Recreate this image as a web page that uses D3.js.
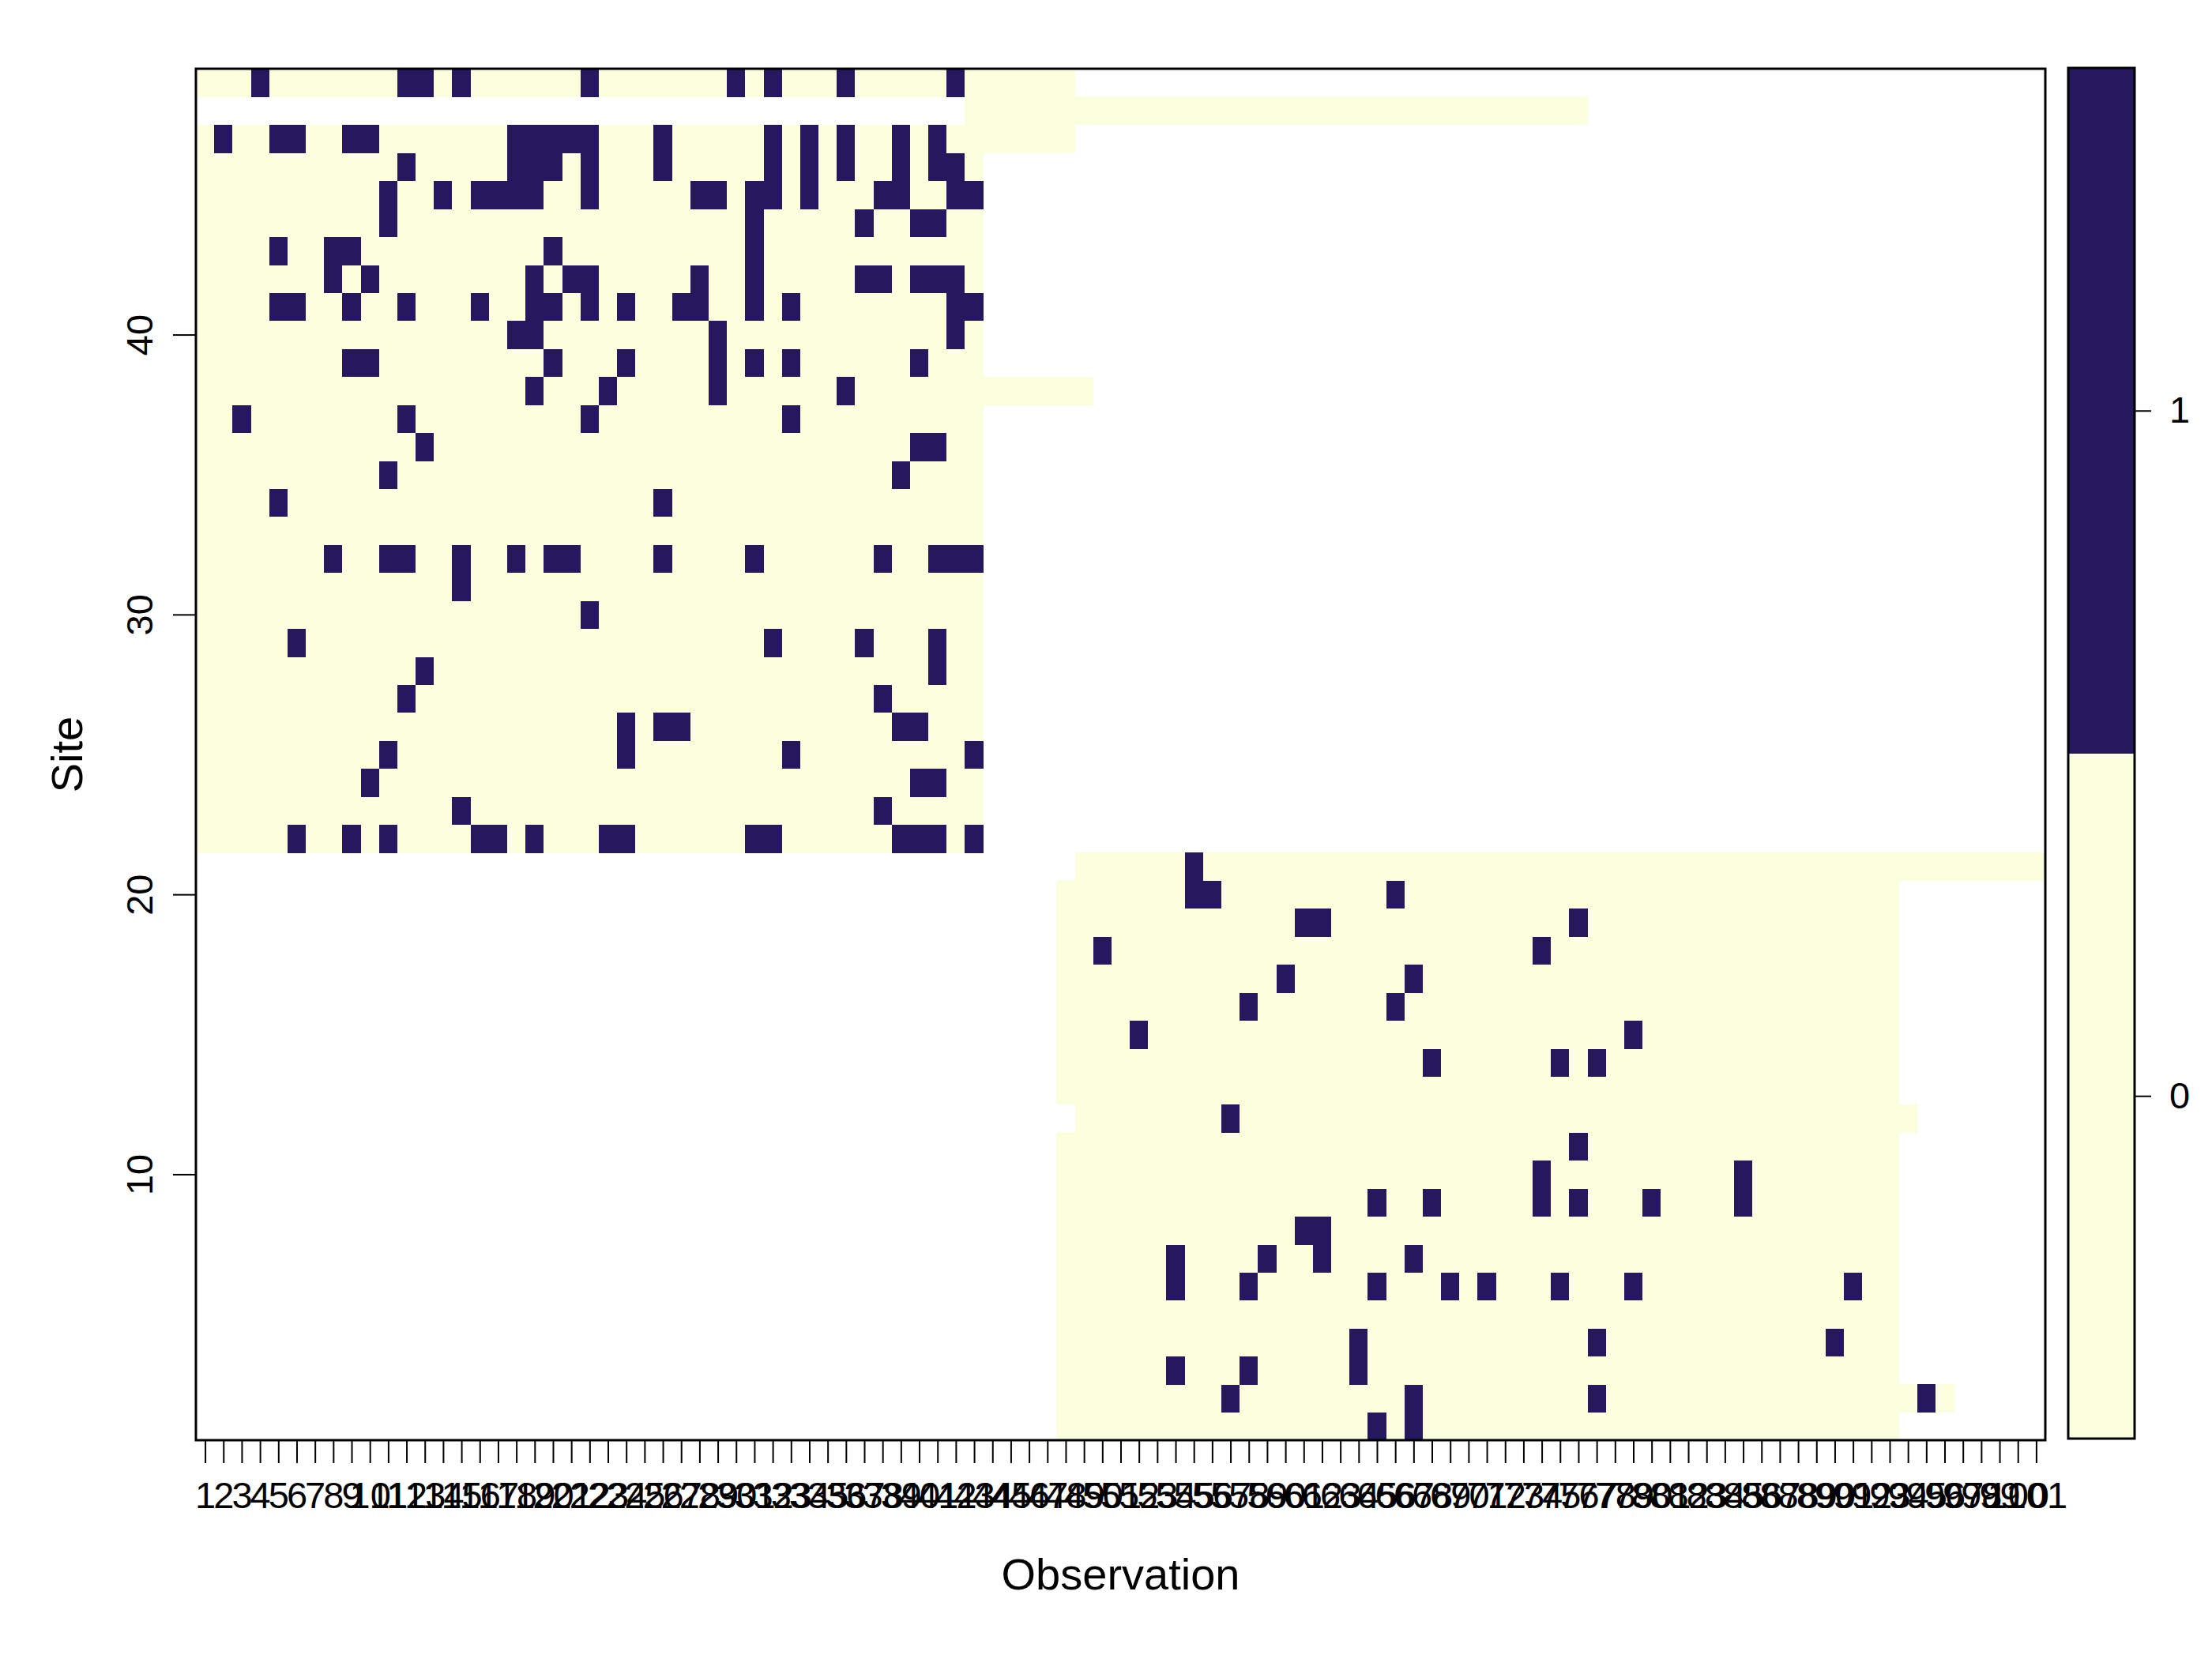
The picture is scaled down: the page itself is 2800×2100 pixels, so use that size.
<!DOCTYPE html>
<html>
<head>
<meta charset="utf-8">
<script src="https://cdn.jsdelivr.net/npm/d3@7"></script>
<style>
  html, body { margin: 0; padding: 0; background: #ffffff; }
  svg { display: block; font-family: "Liberation Sans", Arial, sans-serif; }
</style>
</head>
<body>
<svg id="chart" width="2800" height="2100"></svg>
<script>
// ---------------- DATA ----------------
const observations = [1,2,3,4,5,6,7,8,9,10,11,12,13,14,15,16,17,18,19,20,21,22,23,24,25,26,27,28,29,30,31,32,33,34,35,36,37,38,39,40,41,42,43,44,45,46,47,48,49,50,51,52,53,54,55,56,57,58,59,60,61,62,63,64,65,66,67,68,69,70,71,72,73,74,75,76,77,78,79,80,81,82,83,84,85,86,87,88,89,90,91,92,93,94,95,96,97,98,99,100,101];
const siteTicks = [10, 20, 30, 40];
const legendTicks = [0, 1];
const legendLevels = [0, 1];

// observed range (first and last observation) of each site; cells outside are NA (blank)
const sites    = [1, 2, 3, 4, 5, 6, 7, 8, 9,10,11,12,13,14,15,16,17,18,19,20,21,22,23,24,25,26,27,28,29,30,31,32,33,34,35,36,37,38,39,40,41,42,43,44,45,46,47,48,49];
const obsStart = [48,48,48,48,48,48,48,48,48,48,48,49,48,48,48,48,48,48,48,48,49, 1, 1, 1, 1, 1, 1, 1, 1, 1, 1, 1, 1, 1, 1, 1, 1, 1, 1, 1, 1, 1, 1, 1, 1, 1, 1,43, 1];
const obsEnd   = [93,96,93,93,93,93,93,93,93,93,93,94,93,93,93,93,93,93,93,93,101,43,43,43,43,43,43,43,43,43,43,43,43,43,43,43,43,49,43,43,43,43,43,43,43,43, 48,76,48];

// observations with value 1, per site (all other observed cells are 0)
const detections = [
  [65, 67],                                   // site 1
  [57, 67, 77, 95],                           // 2
  [54, 58, 64],                               // 3
  [64, 77, 90],                               // 4
  [],                                         // 5
  [54, 58, 65, 69, 71, 75, 79, 91],           // 6
  [54, 59, 62, 67],                           // 7
  [61, 62],                                   // 8
  [65, 68, 74, 76, 80, 85],                   // 9
  [74, 85],                                   // 10
  [76],                                       // 11
  [57],                                       // 12
  [],                                         // 13
  [68, 75, 77],                               // 14
  [52, 79],                                   // 15
  [58, 66],                                   // 16
  [60, 67],                                   // 17
  [50, 74],                                   // 18
  [61, 62, 76],                               // 19
  [55, 56, 66],                               // 20
  [55],                                       // 21
  [6, 9, 11, 16, 17, 19, 23, 24, 31, 32, 39, 40, 41, 43], // 22
  [15, 38],                                   // 23
  [10, 40, 41],                               // 24
  [11, 24, 33, 43],                           // 25
  [24, 26, 27, 39, 40],                       // 26
  [12, 38],                                   // 27
  [13, 41],                                   // 28
  [6, 32, 37, 41],                            // 29
  [22],                                       // 30
  [15],                                       // 31
  [8, 11, 12, 15, 18, 20, 21, 26, 31, 38, 41, 42, 43], // 32
  [],                                         // 33
  [5, 26],                                    // 34
  [11, 39],                                   // 35
  [13, 40, 41],                               // 36
  [3, 12, 22, 33],                            // 37
  [19, 23, 29, 36],                           // 38
  [9, 10, 20, 24, 29, 31, 33, 40],            // 39
  [18, 19, 29, 42],                           // 40
  [5, 6, 9, 12, 16, 19, 20, 22, 24, 27, 28, 31, 33, 42, 43], // 41
  [8, 10, 19, 21, 22, 28, 31, 37, 38, 40, 41, 42], // 42
  [5, 8, 9, 20, 31],                          // 43
  [11, 31, 37, 40, 41],                       // 44
  [11, 14, 16, 17, 18, 19, 22, 28, 29, 31, 32, 34, 38, 39, 42, 43], // 45
  [12, 18, 19, 20, 22, 26, 32, 34, 36, 39, 41, 42], // 46
  [2, 5, 6, 9, 10, 18, 19, 20, 21, 22, 26, 32, 34, 36, 39, 41], // 47
  [],                                         // 48
  [4, 12, 13, 15, 22, 30, 32, 36, 42]         // 49
];

const colors = ["#FCFFDD", "#26185F"];

// ---------------- BUILD CELLS ----------------
const cells = [];
sites.forEach((s, i) => {
  const det = new Set(detections[i]);
  observations.forEach(o => {
    if (o >= obsStart[i] && o <= obsEnd[i]) {
      cells.push({ site: s, obs: o, value: det.has(o) ? 1 : 0 });
    }
  });
});

// ---------------- LAYOUT ----------------
const svg = d3.select("#chart");
const plot = { left: 248, right: 2589, top: 87, bottom: 1823 };

const x = d3.scaleLinear().domain([0.5, observations.length + 0.5]).range([plot.left, plot.right]);
const y = d3.scaleLinear().domain([0.5, sites.length + 0.5]).range([plot.bottom, plot.top]);
const color = d3.scaleOrdinal().domain(legendLevels).range(colors);

// cells
svg.append("g")
  .attr("shape-rendering", "crispEdges")
  .selectAll("rect")
  .data(cells)
  .join("rect")
  .attr("x", d => x(d.obs - 0.5))
  .attr("y", d => y(d.site + 0.5))
  .attr("width", d => x(d.obs + 0.5) - x(d.obs - 0.5) + 0.6)
  .attr("height", d => y(d.site - 0.5) - y(d.site + 0.5) + 0.6)
  .attr("fill", d => color(d.value));

// x axis
const xAxis = svg.append("g")
  .attr("transform", `translate(0,${plot.bottom})`)
  .call(d3.axisBottom(x).tickValues(observations).tickFormat(d3.format("d")).tickSize(29).tickPadding(24));
xAxis.select(".domain").remove();
xAxis.selectAll(".tick line").attr("stroke", "#000").attr("stroke-width", 2);
xAxis.selectAll(".tick text").attr("font-size", 47).attr("fill", "#000")
  .attr("font-family", "Liberation Sans, Arial, sans-serif");

// y axis
const yAxis = svg.append("g")
  .attr("transform", `translate(${plot.left},0)`)
  .call(d3.axisLeft(y).tickValues(siteTicks).tickFormat(d3.format("d")).tickSize(29));
yAxis.select(".domain").remove();
yAxis.selectAll(".tick line").attr("stroke", "#000").attr("stroke-width", 2);
yAxis.selectAll(".tick text")
  .attr("x", null).attr("dy", null)
  .attr("text-anchor", "middle")
  .attr("transform", "translate(-55,0) rotate(-90)")
  .attr("font-size", 47).attr("fill", "#000")
  .attr("font-family", "Liberation Sans, Arial, sans-serif");

// plot box
svg.append("rect")
  .attr("x", plot.left).attr("y", plot.top)
  .attr("width", plot.right - plot.left).attr("height", plot.bottom - plot.top)
  .attr("fill", "none").attr("stroke", "#000").attr("stroke-width", 3);

// axis titles
svg.append("text")
  .attr("x", (plot.left + plot.right) / 2).attr("y", 2012)
  .attr("text-anchor", "middle").attr("font-size", 56).attr("fill", "#000")
  .text("Observation");
svg.append("text")
  .attr("transform", `translate(104,${(plot.top + plot.bottom) / 2}) rotate(-90)`)
  .attr("text-anchor", "middle").attr("font-size", 56).attr("fill", "#000")
  .text("Site");

// ---------------- COLOR BAR ----------------
const bar = { left: 2618, right: 2702, top: 86, bottom: 1821 };
const ly = d3.scaleLinear().domain([-0.5, 1.5]).range([bar.bottom, bar.top]);

svg.append("g")
  .attr("shape-rendering", "crispEdges")
  .selectAll("rect")
  .data(legendLevels)
  .join("rect")
  .attr("x", bar.left)
  .attr("y", d => ly(d + 0.5))
  .attr("width", bar.right - bar.left)
  .attr("height", d => ly(d - 0.5) - ly(d + 0.5))
  .attr("fill", d => color(d));

svg.append("rect")
  .attr("x", bar.left).attr("y", bar.top)
  .attr("width", bar.right - bar.left).attr("height", bar.bottom - bar.top)
  .attr("fill", "none").attr("stroke", "#000").attr("stroke-width", 3);

const lAxis = svg.append("g")
  .attr("transform", `translate(${bar.right},0)`)
  .call(d3.axisRight(ly).tickValues(legendTicks).tickFormat(d3.format("d")).tickSize(21).tickPadding(23));
lAxis.select(".domain").remove();
lAxis.selectAll(".tick line").attr("stroke", "#000").attr("stroke-width", 2);
lAxis.selectAll(".tick text").attr("font-size", 47).attr("fill", "#000")
  .attr("font-family", "Liberation Sans, Arial, sans-serif");
</script>
</body>
</html>
